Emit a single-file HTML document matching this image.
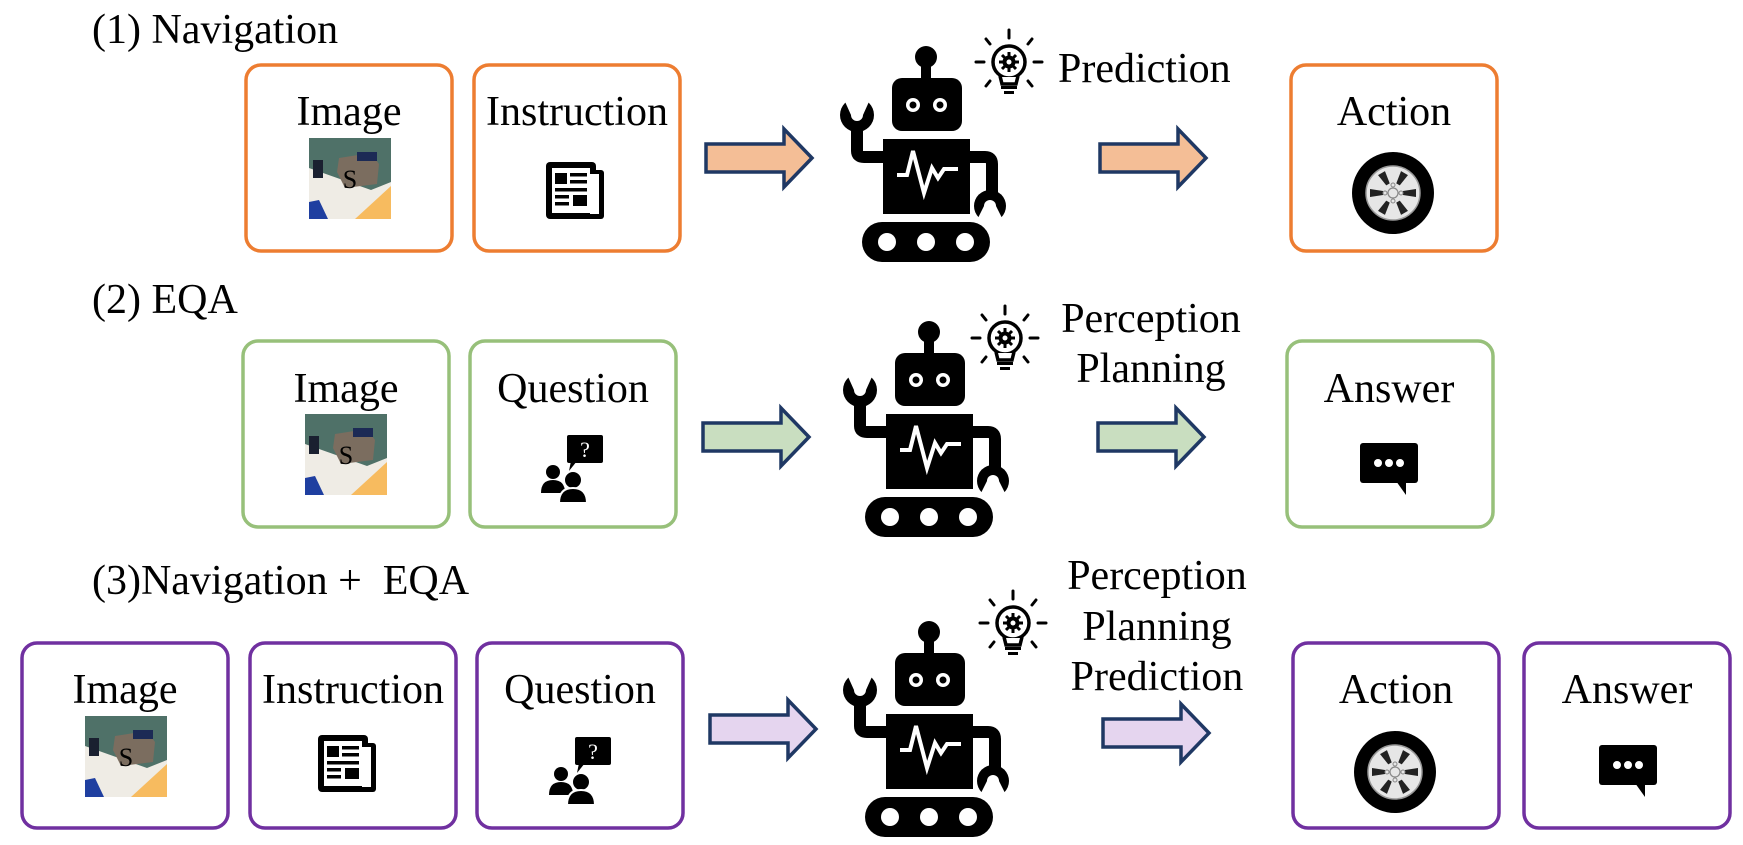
<!DOCTYPE html>
<html><head><meta charset="utf-8"><style>
html,body{margin:0;padding:0;background:#fff;}
svg{display:block;}
text{font-family:"Liberation Serif","Times New Roman",serif;fill:#000;}
</style></head><body>
<svg width="1743" height="845" viewBox="0 0 1743 845" xmlns="http://www.w3.org/2000/svg">
<defs>
  <g id="thumb">
    <rect x="0" y="0" width="82" height="81" fill="#efece5"/>
    <polygon points="0,0 82,0 82,44 62,52 0,30" fill="#4f7168"/>
    <polygon points="30,20 62,15 70,26 68,46 36,50 28,34" fill="#7b6d5f"/>
    <rect x="48" y="14" width="20" height="9" fill="#1c2a55"/>
    <rect x="4" y="22" width="10" height="18" fill="#1a2030"/>
    <polygon points="0,64 10,62 19,81 0,81" fill="#1f3fa0"/>
    <polygon points="46,81 82,48 82,81" fill="#f7bb5f"/>
    <text x="41" y="50" font-size="26" text-anchor="middle">S</text>
  </g>
  <g id="paper">
    <rect x="42" y="8" width="16" height="49" rx="3" fill="#000"/>
    <rect x="0" y="0" width="50" height="57" rx="4" fill="#000"/>
    <rect x="6" y="6" width="38" height="45" fill="#fff"/>
    <rect x="44" y="12" width="9" height="40" fill="#fff"/>
    <rect x="9" y="11" width="12" height="11" fill="#000"/>
    <rect x="24" y="11" width="17" height="3.5" fill="#000"/>
    <rect x="24" y="18" width="17" height="3.5" fill="#000"/>
    <rect x="9" y="26" width="32" height="3.5" fill="#000"/>
    <rect x="9" y="33" width="14" height="3.5" fill="#000"/>
    <rect x="9" y="40" width="14" height="3.5" fill="#000"/>
    <rect x="27" y="33" width="14" height="11" fill="#000"/>
  </g>
  <g id="quest">
    <rect x="26" y="0" width="36" height="28" rx="2" fill="#000"/>
    <polygon points="30,26 36,26 28,36" fill="#000"/>
    <text x="44" y="22" font-size="22" text-anchor="middle" style="fill:#fff">?</text>
    <circle cx="12" cy="37" r="7" fill="#000"/>
    <path d="M0,58 Q0,45 12,45 Q24,45 24,58 Z" fill="#000"/>
    <circle cx="32" cy="45" r="9" fill="#000" stroke="#fff" stroke-width="2"/>
    <path d="M18,68 Q18,53 32,53 Q46,53 46,68 Z" fill="#000" stroke="#fff" stroke-width="2"/>
  </g>
  <g id="chat">
    <rect x="0" y="0" width="58" height="40" rx="3" fill="#000"/>
    <polygon points="36,38 46,38 46,52" fill="#000"/>
    <circle cx="18" cy="20" r="4" fill="#fff"/>
    <circle cx="29" cy="20" r="4" fill="#fff"/>
    <circle cx="40" cy="20" r="4" fill="#fff"/>
  </g>
  <g id="tire">
    <circle cx="0" cy="0" r="41" fill="#000"/>
    <circle cx="0" cy="0" r="27" fill="#e6e6e6" stroke="#999" stroke-width="1.5"/>
    <g fill="#222">
      <polygon points="-4,-23 4,-23 2,-10 -2,-10" transform="rotate(30)"/>
      <polygon points="-4,-23 4,-23 2,-10 -2,-10" transform="rotate(90)"/>
      <polygon points="-4,-23 4,-23 2,-10 -2,-10" transform="rotate(150)"/>
      <polygon points="-4,-23 4,-23 2,-10 -2,-10" transform="rotate(210)"/>
      <polygon points="-4,-23 4,-23 2,-10 -2,-10" transform="rotate(270)"/>
      <polygon points="-4,-23 4,-23 2,-10 -2,-10" transform="rotate(330)"/>
    </g>
    <circle cx="0" cy="0" r="5" fill="none" stroke="#888" stroke-width="1.2"/>
    <circle cx="0" cy="-8" r="2" fill="none" stroke="#888"/>
    <circle cx="0" cy="8" r="2" fill="none" stroke="#888"/>
    <circle cx="-8" cy="0" r="2" fill="none" stroke="#888"/>
    <circle cx="8" cy="0" r="2" fill="none" stroke="#888"/>
  </g>
  <polygon id="arrow" points="0,15 78,15 78,0 106,29 78,58 78,43 0,43" stroke="#1f3864" stroke-width="3.5" stroke-linejoin="miter"/>
  <g id="bulb">
    <circle cx="0" cy="-2" r="16" fill="none" stroke="#000" stroke-width="3.5"/>
    <rect x="-7" y="13" width="14" height="5" fill="#fff"/>
    <path d="M-9,12 L-7,20 H7 L9,12" fill="none" stroke="#000" stroke-width="3.5"/>
    <rect x="-8" y="22" width="16" height="3" fill="#000"/>
    <rect x="-5" y="27" width="10" height="3" fill="#000"/>
    <circle cx="0" cy="-2" r="6.5" fill="#000"/>
    <g stroke="#000" stroke-width="3">
      <line x1="0" y1="-12" x2="0" y2="8"/><line x1="-10" y1="-2" x2="10" y2="-2"/>
      <line x1="-7" y1="-9" x2="7" y2="5"/><line x1="7" y1="-9" x2="-7" y2="5"/>
    </g>
    <circle cx="0" cy="-2" r="2.5" fill="#fff"/>
    <g stroke="#000" stroke-width="3" stroke-linecap="round">
      <line x1="0" y1="-34" x2="0" y2="-26"/>
      <line x1="-33" y1="-2" x2="-25" y2="-2"/>
      <line x1="25" y1="-2" x2="33" y2="-2"/>
      <line x1="-23" y1="-25" x2="-19" y2="-20"/>
      <line x1="23" y1="-25" x2="19" y2="-20"/>
      <line x1="-23" y1="22" x2="-19" y2="17"/>
      <line x1="23" y1="22" x2="19" y2="17"/>
    </g>
  </g>
  <g id="robot">
    <circle cx="926" cy="57" r="11" fill="#000"/>
    <rect x="921" y="62" width="10" height="20" fill="#000"/>
    <rect x="892" y="78" width="70" height="53" rx="10" fill="#000"/>
    <circle cx="913" cy="105" r="7" fill="#fff"/><circle cx="913" cy="105" r="3.5" fill="#000"/>
    <circle cx="940" cy="105" r="7" fill="#fff"/><circle cx="940" cy="105" r="3.5" fill="#000"/>
    <rect x="883" y="139" width="87" height="75" fill="#000"/>
    <polyline points="897,175 907,175 913,151 924,193 932,168 938,178 944,169 958,169" fill="none" stroke="#fff" stroke-width="4" stroke-linejoin="miter"/>
    <path d="M857,122 V151 Q857,157 864,157 H886" fill="none" stroke="#000" stroke-width="12"/>
    <circle cx="857" cy="115" r="17" fill="#000"/>
    <circle cx="857" cy="115" r="6" fill="#fff"/>
    <polygon points="851,115 863,115 872,95 842,95" fill="#fff"/>
    <path d="M968,157 H985 Q992,157 992,164 V198" fill="none" stroke="#000" stroke-width="12"/>
    <circle cx="990" cy="206" r="16" fill="#000"/>
    <circle cx="990" cy="206" r="6" fill="#fff"/>
    <polygon points="984,206 996,206 1006,226 974,226" fill="#fff"/>
    <rect x="862" y="222" width="128" height="40" rx="20" fill="#000"/>
    <circle cx="887" cy="242" r="9" fill="#fff"/>
    <circle cx="926" cy="242" r="9" fill="#fff"/>
    <circle cx="965" cy="242" r="9" fill="#fff"/>
  </g>
</defs>

<!-- Row 1 -->
<text x="92" y="43" font-size="42">(1) Navigation</text>
<g fill="none" stroke="#ED7D31" stroke-width="3.5">
  <rect x="246" y="65" width="206" height="186" rx="15"/>
  <rect x="474" y="65" width="206" height="186" rx="15"/>
  <rect x="1291" y="65" width="206" height="186" rx="15"/>
</g>
<text x="349" y="125" font-size="42" text-anchor="middle">Image</text>
<text x="577" y="125" font-size="42" text-anchor="middle">Instruction</text>
<text x="1394" y="125" font-size="42" text-anchor="middle">Action</text>
<use href="#thumb" x="309" y="138"/>
<use href="#paper" x="546" y="162"/>
<use href="#arrow" x="706" y="129" fill="#F4BE96"/>
<use href="#robot"/>
<use href="#bulb" x="1009" y="64"/>
<text x="1058" y="82" font-size="42">Prediction</text>
<use href="#arrow" x="1100" y="129" fill="#F4BE96"/>
<use href="#tire" x="1393" y="193"/>

<!-- Row 2 -->
<text x="92" y="313" font-size="42">(2) EQA</text>
<g fill="none" stroke="#97C07A" stroke-width="3.5">
  <rect x="243" y="341" width="206" height="186" rx="15"/>
  <rect x="470" y="341" width="206" height="186" rx="15"/>
  <rect x="1287" y="341" width="206" height="186" rx="15"/>
</g>
<text x="346" y="402" font-size="42" text-anchor="middle">Image</text>
<text x="573" y="402" font-size="42" text-anchor="middle">Question</text>
<text x="1389" y="402" font-size="42" text-anchor="middle">Answer</text>
<use href="#thumb" x="305" y="414"/>
<use href="#quest" x="541" y="435"/>
<use href="#arrow" x="703" y="408" fill="#C9DEC0"/>
<use href="#robot" x="3" y="275"/>
<use href="#bulb" x="1005" y="340"/>
<text x="1151" y="332" font-size="42" text-anchor="middle">Perception</text>
<text x="1151" y="382" font-size="42" text-anchor="middle">Planning</text>
<use href="#arrow" x="1098" y="408" fill="#C9DEC0"/>
<use href="#chat" x="1360" y="443"/>

<!-- Row 3 -->
<text x="92" y="594" font-size="42" xml:space="preserve">(3)Navigation +  EQA</text>
<g fill="none" stroke="#7030A0" stroke-width="3.5">
  <rect x="22" y="643" width="206" height="185" rx="15"/>
  <rect x="250" y="643" width="206" height="185" rx="15"/>
  <rect x="477" y="643" width="206" height="185" rx="15"/>
  <rect x="1293" y="643" width="206" height="185" rx="15"/>
  <rect x="1524" y="643" width="206" height="185" rx="15"/>
</g>
<text x="125" y="703" font-size="42" text-anchor="middle">Image</text>
<text x="353" y="703" font-size="42" text-anchor="middle">Instruction</text>
<text x="580" y="703" font-size="42" text-anchor="middle">Question</text>
<text x="1396" y="703" font-size="42" text-anchor="middle">Action</text>
<text x="1627" y="703" font-size="42" text-anchor="middle">Answer</text>
<use href="#thumb" x="85" y="716"/>
<use href="#paper" x="318" y="735"/>
<use href="#quest" x="549" y="737"/>
<use href="#arrow" x="710" y="700" fill="#E5D5EF"/>
<use href="#robot" x="3" y="575"/>
<use href="#bulb" x="1013" y="625"/>
<text x="1157" y="589" font-size="42" text-anchor="middle">Perception</text>
<text x="1157" y="640" font-size="42" text-anchor="middle">Planning</text>
<text x="1157" y="690" font-size="42" text-anchor="middle">Prediction</text>
<use href="#arrow" x="1103" y="704" fill="#E5D5EF"/>
<use href="#tire" x="1395" y="772"/>
<use href="#chat" x="1599" y="745"/>
</svg>
</body></html>
